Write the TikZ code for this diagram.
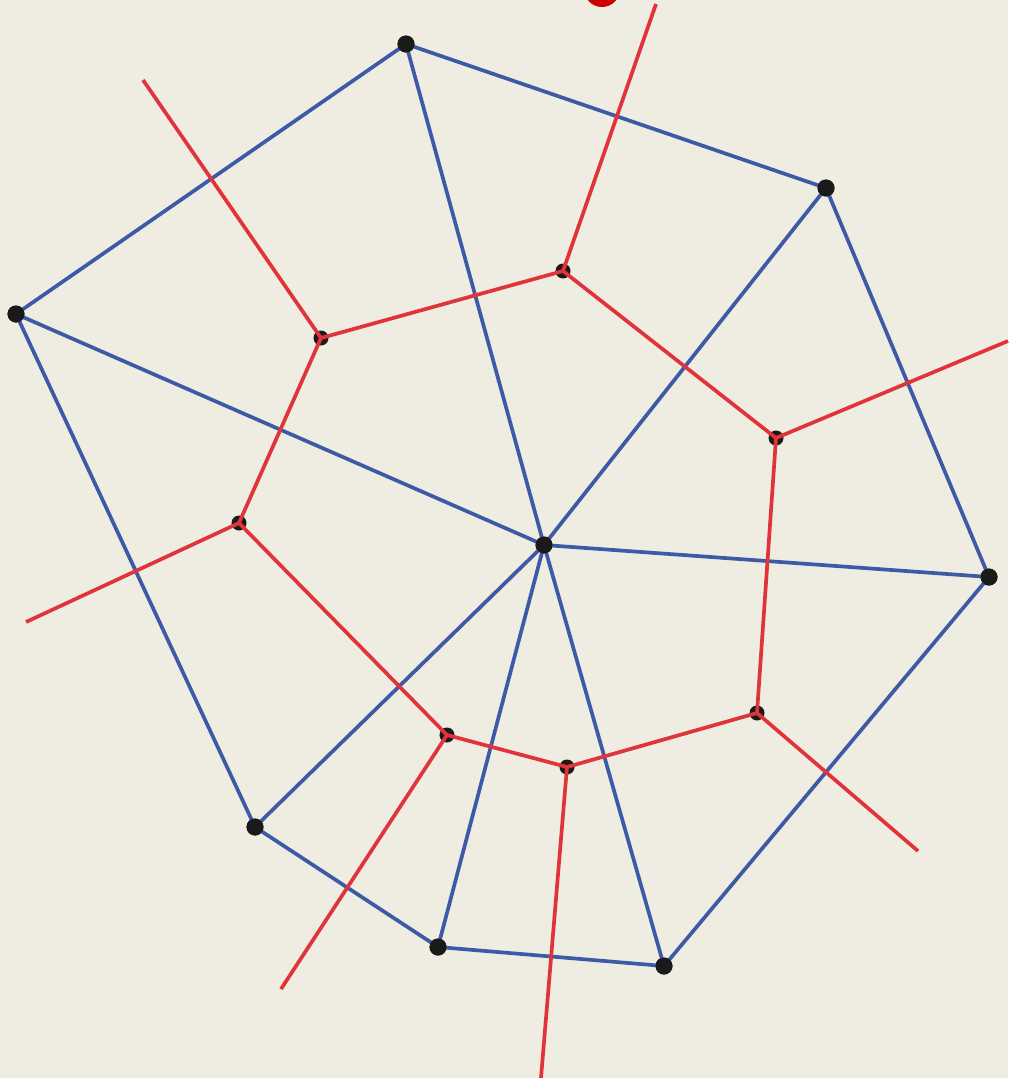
\documentclass[tikz,border=0pt]{standalone}
\definecolor{bg}{HTML}{EFECE1}
\definecolor{bl}{HTML}{3D5AA6}
\definecolor{rd}{HTML}{E0343A}
\definecolor{dk}{HTML}{1A1A1A}
\begin{document}
\begin{tikzpicture}[x=0.01cm,y=-0.01cm,
  blueline/.style={bl,line width=1.05pt},
  redline/.style={rd,line width=1.05pt},
  site/.style={circle,fill=dk,inner sep=0pt,minimum size=0.17cm},
  vert/.style={circle,fill=dk,inner sep=0pt,minimum size=0.15cm}]
\fill[bg] (0,0) rectangle (1008,1078);
\useasboundingbox (0,0) rectangle (1008,1078);
% red marker at top
\begin{scope}
\clip (0,0) rectangle (1008,1078);
\fill[red!80!black] (602,-11) circle (18);
\end{scope}
% sites
\node[site] (p1) at (406,44) {};
\node[site] (p2) at (826,188) {};
\node[site] (p3) at (16,314) {};
\node[site] (c) at (544,545) {};
\node[site] (p4) at (989,577) {};
\node[site] (p5) at (255,827) {};
\node[site] (p6) at (438,947) {};
\node[site] (p7) at (664,966) {};
% red vertices
\node[vert] (r1) at (563,271) {};
\node[vert] (r2) at (321,338) {};
\node[vert] (r3) at (776,438) {};
\node[vert] (r4) at (239,523) {};
\node[vert] (r5) at (757,713) {};
\node[vert] (r6) at (447,735) {};
\node[vert] (r7) at (567,767) {};
% ray ends
\coordinate (e1) at (656,4);
\coordinate (e2) at (143,80);
\coordinate (e3) at (1008,341);
\coordinate (e4) at (26,622);
\coordinate (e5) at (918,851);
\coordinate (e6) at (281,989);
\coordinate (e7) at (541,1078);
% blue edges
\draw[blueline] (p1.center) -- (p2.center);
\draw[blueline] (p1.center) -- (p3.center);
\draw[blueline] (p1.center) -- (c.center);
\draw[blueline] (p2.center) -- (c.center);
\draw[blueline] (p2.center) -- (p4.center);
\draw[blueline] (p3.center) -- (c.center);
\draw[blueline] (p3.center) -- (p5.center);
\draw[blueline] (c.center) -- (p4.center);
\draw[blueline] (c.center) -- (p5.center);
\draw[blueline] (c.center) -- (p6.center);
\draw[blueline] (c.center) -- (p7.center);
\draw[blueline] (p5.center) -- (p6.center);
\draw[blueline] (p6.center) -- (p7.center);
\draw[blueline] (p7.center) -- (p4.center);
% red edges
\draw[redline] (r1.center) -- (r2.center);
\draw[redline] (r1.center) -- (r3.center);
\draw[redline] (r2.center) -- (r4.center);
\draw[redline] (r4.center) -- (r6.center);
\draw[redline] (r6.center) -- (r7.center);
\draw[redline] (r7.center) -- (r5.center);
\draw[redline] (r5.center) -- (r3.center);
\draw[redline] (r1.center) -- (e1);
\draw[redline] (r2.center) -- (e2);
\draw[redline] (r3.center) -- (e3);
\draw[redline] (r4.center) -- (e4);
\draw[redline] (r5.center) -- (e5);
\draw[redline] (r6.center) -- (e6);
\draw[redline] (r7.center) -- (e7);
% redraw sites on top
\foreach \n in {p1,p2,p3,c,p4,p5,p6,p7}
  \fill[dk] (\n) circle (8.5);
\end{tikzpicture}
\end{document}
